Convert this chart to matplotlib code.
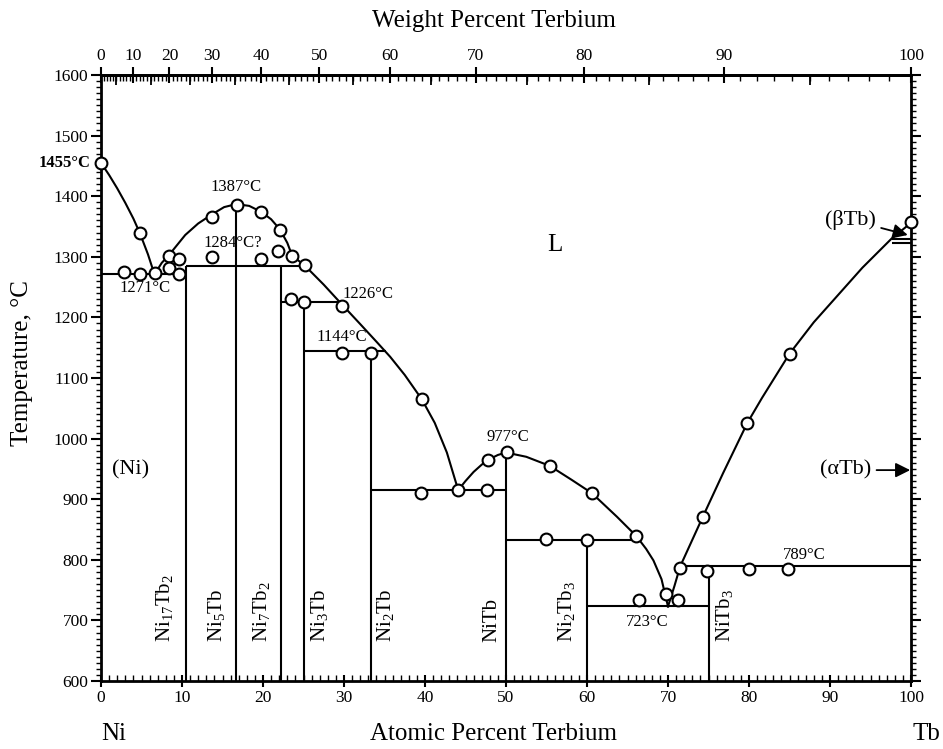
import numpy as np
import matplotlib
matplotlib.use("Agg")
import matplotlib.pyplot as plt
from matplotlib.ticker import MultipleLocator, FixedLocator, NullFormatter

plt.rcParams['font.family'] = ['Liberation Serif', 'DejaVu Serif']
plt.rcParams['mathtext.fontset'] = 'custom'
plt.rcParams['mathtext.rm'] = 'Liberation Serif'
plt.rcParams['mathtext.it'] = 'Liberation Serif:italic'

# ---- atomic masses for the weight-percent scale ----
M_NI = 58.693
M_TB = 158.925

# ---- liquidus curves (at.% Tb, °C) ----
ni_liq_x = [0, 1, 2, 3, 4, 4.8, 5.8, 6.6]
ni_liq_t = [1455, 1435, 1413, 1389, 1363, 1339, 1304, 1271]

mid_liq_x = [6.6, 7.5, 8.4, 10.4, 12.0, 13.7, 15.2, 16.7, 18.3, 19.8, 21.0, 22.1,
             23.0, 23.6, 25.2, 27.5, 29.7, 32.0, 34.0, 35.7, 37.5, 39.6, 41.2,
             42.7, 44.1]
mid_liq_t = [1271, 1290, 1303, 1336, 1355, 1370, 1382, 1387, 1384, 1374, 1362, 1345,
             1323, 1302, 1285, 1254, 1222, 1189, 1160, 1135, 1105, 1065, 1026,
             977, 915]

nitb_left_x = [44.1, 45.0, 46.0, 47.0, 47.8, 49.0, 50.0]
nitb_left_t = [915, 930, 945, 957, 965, 973, 977]

nitb_right_x = [50.0, 52.5, 55.4, 58.1, 60.6, 63.7, 66.1, 67.3, 68.2, 69.2, 70.0]
nitb_right_t = [977, 970, 955, 932, 910, 871, 839, 818, 799, 768, 723]

tb_liq_x = [70.0, 70.8, 71.5, 72.9, 74.3, 76.8, 79.8, 81.6, 85.0, 88.0, 90.6,
            94.0, 97.6, 100.0]
tb_liq_t = [723, 757, 789, 830, 871, 943, 1026, 1067, 1140, 1192, 1231,
            1282, 1330, 1356]

# ---- invariant reactions: start, end, temperature ----
iso_x0 = [0, 10.5, 22.2, 25.0, 33.3, 50.0, 60.0, 71.3, 97.6, 97.6]
iso_x1 = [10.5, 25.3, 29.7, 35.2, 50.0, 66.3, 75.0, 100.0, 100.0, 100.0]
iso_t = [1271, 1284, 1226, 1144, 916, 833, 723, 789, 1330, 1322]

# ---- intermetallic compounds ----
comp_x = [10.53, 16.67, 22.22, 25.0, 33.33, 50.0, 60.0, 75.0]
comp_top = [1284, 1387, 1284, 1226, 1144, 977, 833, 789]
comp_names = [r'$\mathregular{Ni_{17}Tb_2}$', r'$\mathregular{Ni_5Tb}$',
              r'$\mathregular{Ni_7Tb_2}$', r'$\mathregular{Ni_3Tb}$',
              r'$\mathregular{Ni_2Tb}$', r'NiTb',
              r'$\mathregular{Ni_2Tb_3}$', r'$\mathregular{NiTb_3}$']
comp_label_x = [7.9, 14.3, 19.8, 27.0, 35.1, 48.2, 57.5, 77.0]

# ---- measured points (at.% Tb, °C) ----
pt_x = [0, 4.8, 2.8, 4.8, 6.7, 8.4, 9.6, 8.4, 9.6,
        13.7, 16.8, 19.8, 22.1, 23.6, 25.2,
        13.7, 19.8, 21.9,
        23.5, 25.0, 29.7,
        29.7, 33.3,
        39.6, 44.1, 39.5, 47.7, 47.8, 50.1,
        55.4, 60.6, 66.1, 54.9, 60.0,
        69.8, 66.4, 71.2,
        71.5, 74.8, 80.0, 84.8,
        74.3, 79.8, 85.0, 100.0]
pt_t = [1455, 1339, 1275, 1271, 1274, 1301, 1297, 1281, 1271,
        1365, 1386, 1374, 1345, 1302, 1286,
        1300, 1297, 1310,
        1231, 1226, 1219,
        1141, 1141,
        1065, 915, 911, 916, 965, 978,
        955, 910, 839, 834, 833,
        744, 734, 734,
        786, 782, 784, 784,
        871, 1026, 1140, 1358]

# ---- scale ticks ----
at_ticks = list(range(0, 101, 10))
wt_ticks = list(range(0, 101, 10))
t_ticks = list(range(600, 1601, 100))


def at_to_wt(a):
    a = np.asarray(a, dtype=float)
    with np.errstate(divide='ignore', invalid='ignore'):
        return 100.0 * a * M_TB / (a * M_TB + (100.0 - a) * M_NI)


def wt_to_at(w):
    w = np.asarray(w, dtype=float)
    with np.errstate(divide='ignore', invalid='ignore'):
        return 100.0 * (w / M_TB) / (w / M_TB + (100.0 - w) / M_NI)


fig = plt.figure(figsize=(9.43, 7.49), dpi=100)
ax = fig.add_axes([101 / 943, 1 - 681 / 749, 810 / 943, 606 / 749])
ax.set_xlim(0, 100)
ax.set_ylim(600, 1600)

LW = 1.5
for xs, ts in [(ni_liq_x, ni_liq_t), (mid_liq_x, mid_liq_t), (nitb_left_x, nitb_left_t),
               (nitb_right_x, nitb_right_t), (tb_liq_x, tb_liq_t)]:
    ax.plot(xs, ts, color='k', lw=LW, zorder=2, solid_joinstyle='round')

ax.hlines(iso_t, iso_x0, iso_x1, color='k', lw=LW, zorder=2)
ax.vlines(comp_x, 600, comp_top, color='k', lw=LW, zorder=2)

ax.plot(pt_x, pt_t, linestyle='none', marker='o', markersize=8.5,
        markerfacecolor='white', markeredgecolor='k', markeredgewidth=1.5,
        zorder=4, clip_on=False)

for name, lx in zip(comp_names, comp_label_x):
    ax.text(lx, 665, name, rotation=90, ha='center', va='bottom', fontsize=15)

# phase fields and invariant temperatures
ax.text(56, 1320, 'L', fontsize=18, ha='center', va='center')
ax.text(3.6, 948, '(Ni)', fontsize=16, ha='center', va='center')
ax.text(-1.3, 1455, '1455°C', fontsize=12, fontweight='bold', ha='right',
        va='center', clip_on=False)
temp_labels = [('1387°C', 16.7, 1416), ('1284°C?', 16.3, 1322), ('1271°C', 5.4, 1248),
               ('1226°C', 33.0, 1239), ('1144°C', 29.7, 1168), ('977°C', 50.2, 1003),
               ('723°C', 67.4, 698), ('789°C', 86.8, 808)]
for s, x, y in temp_labels:
    ax.text(x, y, s, fontsize=12, ha='center', va='center')

ax.annotate('(βTb)', xy=(99.6, 1336), xytext=(92.5, 1361), fontsize=16,
            ha='center', va='center',
            arrowprops=dict(arrowstyle='-|>', color='k', lw=1.3, mutation_scale=22,
                            shrinkA=2, shrinkB=0))
ax.annotate('(αTb)', xy=(99.9, 948), xytext=(91.9, 948), fontsize=16,
            ha='center', va='center',
            arrowprops=dict(arrowstyle='-|>', color='k', lw=1.3, mutation_scale=22,
                            shrinkA=2, shrinkB=0))

# axes styling
for sp in ax.spines.values():
    sp.set_linewidth(2.0)
ax.xaxis.set_major_locator(FixedLocator(at_ticks))
ax.xaxis.set_minor_locator(MultipleLocator(1))
ax.yaxis.set_major_locator(FixedLocator(t_ticks))
ax.yaxis.set_minor_locator(MultipleLocator(10))
ax.tick_params(axis='x', which='major', direction='inout', length=9, width=1.5,
               labelsize=12.5, pad=2, top=False)
ax.tick_params(axis='x', which='minor', direction='in', length=4, width=1.0, top=False)
ax.tick_params(axis='y', which='major', direction='out', length=7, width=1.5,
               labelsize=12.5, pad=2, right=True)
ax.tick_params(axis='y', which='minor', direction='out', length=3.5, width=1.0, right=True)

# weight-percent scale on top
sec = ax.secondary_xaxis('top', functions=(at_to_wt, wt_to_at))
sec.set_xticks(wt_ticks)
sec.xaxis.set_minor_locator(FixedLocator(list(range(0, 101, 1))))
sec.tick_params(which='major', direction='inout', length=12, width=1.5,
                labelsize=12.5, pad=2)
sec.tick_params(which='minor', direction='in', length=4, width=1.0)
sec.spines['top'].set_linewidth(2.0)

sec5 = ax.secondary_xaxis('top', functions=(at_to_wt, wt_to_at))
sec5.set_xticks(list(range(5, 100, 10)))
sec5.xaxis.set_major_formatter(NullFormatter())
sec5.tick_params(which='major', direction='in', length=7, width=1.3)
sec5.spines['top'].set_linewidth(2.0)

fig.text(494 / 943, 1 - 27 / 749, 'Weight Percent Terbium', fontsize=18,
         ha='center', va='baseline')
fig.text(494 / 943, 1 - 740 / 749, 'Atomic Percent Terbium', fontsize=18,
         ha='center', va='baseline')
fig.text(101 / 943, 1 - 740 / 749, 'Ni', fontsize=18, ha='left', va='baseline')
fig.text(940 / 943, 1 - 740 / 749, 'Tb', fontsize=18, ha='right', va='baseline')
fig.text(22 / 943, 1 - 363 / 749, 'Temperature, °C', fontsize=18, rotation=90,
         ha='center', va='center')

fig.savefig('out.png', dpi=100)
